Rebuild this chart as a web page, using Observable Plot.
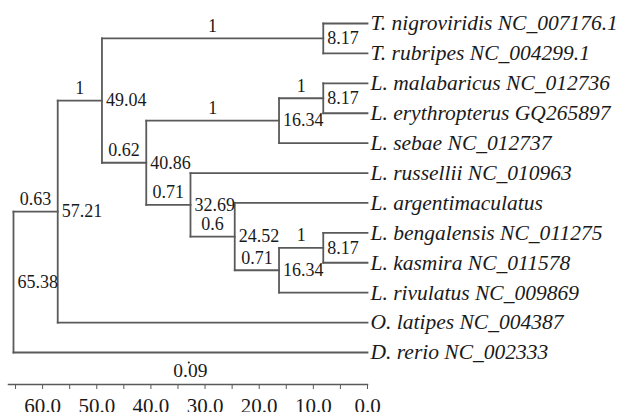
<!DOCTYPE html>
<html>
<head>
<meta charset="utf-8">
<script src="https://cdn.jsdelivr.net/npm/d3@7"></script>
<script src="https://cdn.jsdelivr.net/npm/@observablehq/plot@0.6"></script>
<style>
  html, body { margin: 0; padding: 0; background: #fff; }
  #chart svg { display: block; }
  #chart svg, #chart svg text { font-family: "Liberation Serif", "Times New Roman", serif; }
</style>
</head>
<body>
<div id="chart"></div>
<script>
// ---- Data ----
const taxa = [
  "T. nigroviridis NC_007176.1",
  "T. rubripes NC_004299.1",
  "L. malabaricus NC_012736",
  "L. erythropterus GQ265897",
  "L. sebae NC_012737",
  "L. russellii NC_010963",
  "L. argentimaculatus",
  "L. bengalensis NC_011275",
  "L. kasmira NC_011578",
  "L. rivulatus NC_009869",
  "O. latipes NC_004387",
  "D. rerio NC_002333"
];
// index of the internal node each taxon hangs from
const taxonParent = [3, 3, 6, 6, 5, 7, 8, 10, 10, 9, 1, 0];
// internal nodes: divergence time (age), parent node, posterior support
const nodeAge     = [65.38, 57.21, 49.04, 8.17, 40.86, 16.34, 8.17, 32.69, 24.52, 16.34, 8.17];
const nodeParent  = [null,  0,     1,     2,    2,     4,     5,    4,     7,     8,     9];
const nodeSupport = [null, "0.63", "1",  "1",  "0.62", "1",   "1",  "0.71", "0.6", "0.71", "1"];
const ageTicks = [0, 5, 10, 15, 20, 25, 30, 35, 40, 45, 50, 55, 60, 65];
const scaleLabel = "0.09";
const scaleLabelAge = 32.7;

// ---- Layout of the tree (rows from the order of taxa) ----
const nodeRow = new Array(nodeAge.length).fill(0);
const childRows = nodeAge.map(() => []);
taxa.forEach((t, i) => childRows[taxonParent[i]].push(i));
for (let k = nodeAge.length - 1; k >= 0; k--) {
  nodeRow[k] = d3.mean(childRows[k]);
  if (nodeParent[k] != null) childRows[nodeParent[k]].push(nodeRow[k]);
}

const segments = [];
taxa.forEach((t, i) => segments.push({x1: nodeAge[taxonParent[i]], x2: 0, y1: i, y2: i}));
nodeAge.forEach((a, k) => {
  if (nodeParent[k] != null) segments.push({x1: nodeAge[nodeParent[k]], x2: a, y1: nodeRow[k], y2: nodeRow[k]});
  segments.push({x1: a, x2: a, y1: d3.min(childRows[k]), y2: d3.max(childRows[k])});
});

const tipRows = taxa.map((name, i) => ({name, age: 0, row: i}));
const nodeRows = nodeAge.map((a, k) => ({
  age: a, row: nodeRow[k],
  label: String(a),
  support: nodeSupport[k],
  mid: nodeParent[k] != null ? (a + nodeAge[nodeParent[k]]) / 2 : null
}));
const supportRows = nodeRows.filter(d => d.support != null);

const lineColor = "#5a5a5a";
const textColor = "#1a1a1a";
const serif = "Liberation Serif";

const chart = Plot.plot({
  width: 621,
  height: 412,
  marginLeft: 8,
  marginRight: 254,
  marginTop: 23,
  marginBottom: 28,
  x: {domain: [66.3, 0]},
  y: {domain: [0, 12.07], reverse: true, axis: null},
  style: {background: "white", color: textColor, overflow: "visible"},
  marks: [
    Plot.link(segments, {x1: "x1", y1: "y1", x2: "x2", y2: "y2", stroke: lineColor, strokeWidth: 1.8, strokeLinecap: "square"}),
    Plot.text(tipRows, {x: "age", y: "row", text: "name", textAnchor: "start", dx: 3, fontSize: 21.5, fontStyle: "italic", fill: textColor, fontFamily: serif}),
    Plot.text(nodeRows, {x: "age", y: "row", text: "label", textAnchor: "start", dx: 4, fontSize: 18, fill: textColor, fontFamily: serif}),
    Plot.text(supportRows, {x: "mid", y: "row", text: "support", textAnchor: "middle", dy: -12.5, fontSize: 18, fill: textColor, fontFamily: serif}),
    Plot.frame({anchor: "bottom", stroke: lineColor, strokeWidth: 1.5}),
    Plot.axisX({
      ticks: ageTicks,
      tickFormat: d => d % 10 === 0 ? d.toFixed(1) : "",
      tickSize: 5,
      tickPadding: 9,
      fontSize: 21,
      label: null,
      stroke: lineColor,
      fill: textColor
    }),
    Plot.text([scaleLabel], {x: () => scaleLabelAge, text: d => d, frameAnchor: "bottom", dy: -7.5, fontSize: 19.5, fill: textColor, fontFamily: serif}),
    Plot.dot([scaleLabel], {x: () => scaleLabelAge + 0.3, frameAnchor: "bottom", dy: -22, r: 1, fill: textColor, stroke: null})
  ]
});
document.getElementById("chart").appendChild(chart);
</script>
</body>
</html>
